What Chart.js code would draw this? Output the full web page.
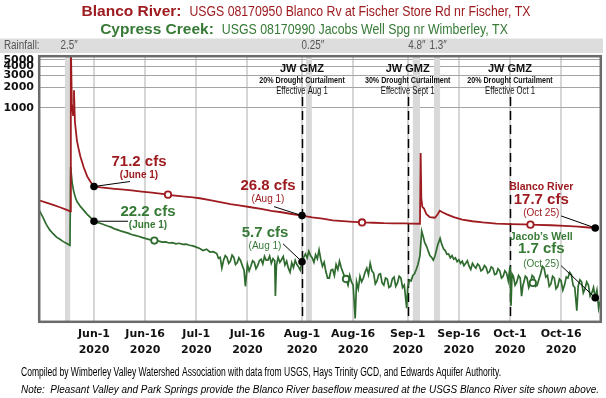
<!DOCTYPE html>
<html>
<head>
<meta charset="utf-8">
<script src="https://cdn.jsdelivr.net/npm/chart.js@4.4.1/dist/chart.umd.min.js"></script>
<style>
  html, body { margin: 0; padding: 0; background: #fff; }
  #wrap { width: 606px; height: 398px; }
</style>
</head>
<body>
<div id="wrap"><canvas id="flowChart" width="606" height="398"></canvas></div>
<script>
// x values are days counted from June 1, 2020 (Jun-1 = 0)
var tickDays = [0, 15, 30, 45, 61, 76, 92, 107, 122, 137]
var tickLabels = [["Jun-1", "2020"], ["Jun-16", "2020"], ["Jul-1", "2020"], ["Jul-16", "2020"], ["Aug-1", "2020"],
    ["Aug-16", "2020"], ["Sep-1", "2020"], ["Sep-16", "2020"], ["Oct-1", "2020"], ["Oct-16", "2020"]]
var yTicks = [1000, 2000, 3000, 4000, 5000]

// Blanco River at Fischer (cfs)
var blancoDays = [-16, -14, -12, -10, -8, -7, -6.8, -6.5, -6.15, -5.87, -5.6, -5, -4.5, -4, -3, -2, -1,
    0, 2, 4, 6, 8, 11, 14, 17, 20, 23, 26, 29, 31, 34, 37, 40, 43, 46, 49, 52, 55, 58,
    61, 64, 67, 70, 73, 76, 79, 82, 85, 88, 91, 93, 95.6, 95.8, 96, 96.3, 96.8, 97.5, 98.5,
    100, 100.8, 101.4, 102.2, 103.5, 105.5, 108, 111, 114, 118, 122, 126, 130, 134, 138, 142, 145, 147, 148]
var blancoCfs = [44.5, 41.5, 38.5, 35.5, 32.5, 31, 9000, 1150, 780, 1800, 620, 330, 250, 195, 135, 100, 83,
    71.2, 69, 67.5, 66, 64.5, 62.5, 60, 58, 55.5, 53, 51, 49.5, 48, 45, 42, 39.5, 37.5, 35.5, 33.5, 31.5, 30, 28.3,
    26.8, 25.3, 24.2, 22.9, 22.3, 21.8, 21.3, 21.1, 20.8, 20.7, 20.6, 20.5, 20.4, 219, 48, 36, 34, 28, 25.5,
    25, 28, 31.5, 30, 28, 25.5, 23.5, 22.2, 21.3, 20.5, 20.2, 20, 19.7, 19.4, 19, 18.5, 18, 17.7, 17.9]

// Cypress Creek at Jacob's Well (cfs)
var jwDays = [-16, -15, -14, -13, -12, -11, -10, -9, -8, -7.05, -6.85, -6.4, -6, -5.5, -5, -4, -3, -2, -1,
    0, 1, 2, 3, 4, 5, 6, 7, 8, 9, 10, 11, 12, 13, 14, 15, 16, 17, 18, 19, 20, 21, 22, 23, 24, 25, 26, 27, 28, 29, 30, 31, 32, 33, 34, 35,
    36, 36.5, 37, 37.5, 38, 38.5, 39, 39.5, 40, 40.5,
    41, 41.5, 42, 42.5, 43, 43.5, 44, 44.4, 45, 45.5,
    46, 46.5, 47, 47.5, 48, 48.5, 49, 49.5, 50, 50.5,
    51, 51.5, 52, 52.5, 53, 53.2, 53.5, 54, 54.5, 55,
    55.5, 56, 56.5, 57, 57.5, 58, 58.5, 59, 59.5, 60,
    60.5, 61, 61.5, 62, 62.5, 63, 63.5, 64, 64.5, 65,
    65.5, 66, 66.5, 67, 67.5, 68, 68.5, 69, 69.5, 70,
    70.5, 71, 71.5, 72, 72.5, 73, 73.5, 74, 74.5, 75,
    75.5, 76, 76.6, 77, 77.5, 78, 78.5, 79, 79.5, 80,
    80.5, 81, 81.5, 82, 82.5, 83, 83.5, 84, 84.5, 85,
    85.5, 86, 86.5, 87, 87.5, 88, 88.5, 89, 89.5, 90,
    90.5, 91, 91.7, 92, 92.5, 93, 93.5, 94, 94.5, 95,
    95.6, 96.1, 96.6, 97, 97.6, 98, 98.5, 99, 99.5, 100,
    100.8, 101.5, 102, 102.5, 103, 103.5, 104, 104.5, 105, 105.5,
    106, 106.5, 107, 107.5, 108, 108.5, 109, 109.5, 110, 110.5,
    111, 111.5, 112, 112.5, 113, 113.5, 114, 114.5, 115, 115.5,
    116, 116.5, 117, 117.5, 118, 118.5, 119, 119.5, 120, 120.5,
    121, 121.5, 122, 122.3, 122.6, 123, 123.5, 124, 124.5, 125,
    125.4, 125.8, 126, 126.5, 127, 127.5, 128, 128.5, 129, 129.5,
    130, 130.5, 131, 131.5, 132, 132.5, 133, 133.5, 134, 134.5,
    135, 135.5, 136, 136.5, 137, 137.5, 138, 138.5, 139, 139.5,
    140, 140.5, 141, 141.6, 142, 142.5, 143, 143.5, 144, 144.5,
    145, 145.5, 146, 146.5, 147, 147.5, 148, 148.4]
var jwCfs = [31.8, 25.5, 20.0, 16.6, 14.6, 13.0, 12.1, 11.2, 10.5, 9.9, 138, 80, 62, 50, 43, 36.5, 32, 28, 25,
    22.2, 21.3, 20.6, 19.7, 18.9, 18.2, 17.2, 16.6, 15.9, 15.4, 14.9, 14.2, 13.8, 13.4, 12.9, 12.5, 12.1, 11.8, 11.5, 11.4, 11.0, 11.1, 10.7, 10.8, 10.4, 10.6, 10.2, 10.3, 9.9, 9.7, 9.3, 8.9, 8.3, 8.7, 7.9, 8.0,
    7.5, 6.4, 6.6, 4.6, 6.0, 7.0, 6.6, 5.4, 5.8, 7.1,
    6.6, 5.2, 5.5, 6.5, 5.9, 5.0, 4.3, 2.5, 5.2, 4.2,
    4.9, 5.9, 5.6, 4.5, 5.0, 5.9, 6.2, 5.3, 6.8, 6.0,
    6.0, 6.9, 5.4, 6.3, 5.9, 1.8, 5.0, 6.6, 5.6, 6.1,
    6.8, 5.1, 5.8, 4.6, 4.0, 5.5, 4.7, 6.0, 5.2, 4.8,
    4.3, 5.7, 6.6, 7.4, 6.5, 8.1, 7.0, 6.5, 5.6, 7.2,
    6.3, 8.5, 6.2, 4.9, 5.6, 4.1, 3.3, 3.3, 4.3, 4.4,
    3.6, 5.2, 4.4, 5.8, 4.7, 4.0, 3.4, 3.1, 2.6, 3.6,
    2.9, 2.6, 0.85, 2.9, 2.3, 3.5, 2.9, 3.3, 4.0, 4.6,
    3.7, 5.4, 4.2, 3.9, 2.7, 3.0, 3.7, 3.8, 2.8, 2.6,
    3.3, 3.2, 2.4, 2.5, 3.2, 3.4, 2.5, 2.8, 3.5, 3.3,
    2.4, 2.6, 1.2, 2.4, 3.1, 3.0, 3.6, 3.8, 4.4, 5.2,
    7.0, 16.0, 13.0, 10.8, 9.4, 8.2, 7.0, 6.6, 6.0, 6.9,
    10.0, 12.5, 10.2, 8.8, 8.3, 7.3, 7.4, 6.5, 7.0, 6.2,
    6.5, 5.7, 6.1, 5.4, 5.8, 5.0, 5.4, 5.9, 4.9, 4.4,
    5.4, 4.9, 4.6, 5.3, 5.0, 4.2, 4.4, 5.0, 4.7, 3.9,
    4.1, 4.8, 4.6, 3.7, 3.8, 4.5, 4.2, 3.3, 3.5, 4.2,
    3.9, 3.0, 4.9, 1.3, 3.8, 3.5, 2.6, 2.9, 3.6, 3.3,
    1.8, 2.6, 2.8, 3.5, 3.3, 2.4, 2.8, 3.6, 3.4, 2.5,
    2.6, 3.2, 3.8, 4.9, 4.6, 3.4, 3.6, 2.5, 2.7, 3.5,
    3.3, 2.3, 2.5, 3.2, 3.0, 2.2, 2.6, 3.4, 3.3, 4.0,
    3.7, 2.6, 2.4, 1.1, 2.5, 3.1, 2.9, 2.0, 2.3, 2.9,
    2.6, 1.8, 2.0, 2.4, 1.7, 2.2, 1.2, 1.5]

// open circle markers on each line
var blancoOpenDays = [21.7, 78.6, 128]
var blancoOpenCfs = [54.2, 21.3, 19.8]
var jwOpenDays = [17.7, 73.9, 128.7]
var jwOpenCfs = [11.6, 3.2, 2.8]

// labelled readings
var markDays = [0, 61, 147]
var markDates = ["(June 1)", "(Aug 1)", "(Oct 25)"]
var blancoMarks = [71.2, 26.8, 17.7]
var jwMarks = [22.2, 5.7, 1.7]

// rainfall events
var rainStart = [-8.5, 62.2, 93.5, 99.7]
var rainEnd = [-7.0, 63.9, 95.6, 101.5]
var rainLabels = ["2.5\u2033", "0.25\u2033", "4.8\u2033", "1.3\u2033"]

// Jacob's Well GMZ curtailments
var curtailDays = [61, 92, 122]
var curtailPct = ["20% Drought Curtailment", "30% Drought Curtailment", "20% Drought Curtailment"]
var curtailDates = ["Effective Aug 1", "Effective Sept 1", "Effective Oct 1"]

var RED = "#9e1b20"
var GREEN = "#2f6b2e"
var GREEN_TXT = "#367a36"
var SANS = '"Liberation Sans", Arial, sans-serif'
var VERD = '"DejaVu Sans", Verdana, sans-serif'

function pts(xs, ys) {
    return xs.map(function (x, i) { return { x: x, y: ys[i] } })
}

function text(ctx, str, x, y, font, color, align) {
    ctx.font = font
    ctx.fillStyle = color
    ctx.textAlign = align || "center"
    ctx.textBaseline = "middle"
    ctx.fillText(str, x, y)
}

// no narrow face installed, so squeeze the normal one
function narrow(ctx, str, x, y, font, color, align, sx, baseline) {
    ctx.save()
    ctx.font = font
    ctx.fillStyle = color
    ctx.textAlign = align || "center"
    ctx.textBaseline = baseline || "middle"
    ctx.translate(x, y)
    ctx.scale(sx, 1)
    ctx.fillText(str, 0, 0)
    ctx.restore()
}

function squeezeFor(ctx, str, font, width) {
    ctx.font = font
    return width / ctx.measureText(str).width
}

function titleLine(ctx, cx, y, boldText, restText, restWidth, color) {
    ctx.font = "bold 15.5px " + SANS
    var bw = ctx.measureText(boldText).width
    var x0 = cx - (bw + 8 + restWidth) / 2
    ctx.fillStyle = color
    ctx.textAlign = "left"
    ctx.textBaseline = "alphabetic"
    ctx.fillText(boldText, x0, y)
    var f = "15px " + SANS
    narrow(ctx, restText, x0 + bw + 8, y, f, color, "left", squeezeFor(ctx, restText, f, restWidth), "alphabetic")
}

// label offsets from each dot
var blancoLabelPos = [
    { dx: 45, value: -25, date: -11, lx: 36, ly: -5, bold: true },
    { dx: -34, value: -30, date: -16.5, lx: -28, ly: -9 },
    { dx: -54, name: -41, value: -28.5, date: -15, lx: -34, ly: -12 }
]
var jwLabelPos = [
    { dx: 54, value: -9, date: 4.5, lx: 34, ly: 0, bold: true },
    { dx: -37, value: -28.5, date: -15, lx: -19, ly: -18 },
    { dx: -54, name: -61, value: -48.5, date: -34, lx: -34, ly: -32 }
]

function drawCallouts(ctx, xs, ys, values, layout, color, name) {
    for (var i = 0; i < markDays.length; i++) {
        var px = xs.getPixelForValue(markDays[i])
        var py = ys.getPixelForValue(values[i])
        var p = layout[i]
        ctx.strokeStyle = "#000"
        ctx.lineWidth = 1
        ctx.setLineDash([])
        ctx.beginPath()
        ctx.moveTo(px, py)
        ctx.lineTo(px + p.lx, py + p.ly)
        ctx.stroke()
        if (p.name !== undefined) text(ctx, name, px + p.dx, py + p.name, "bold 10.5px " + SANS, color)
        text(ctx, values[i] + " cfs", px + p.dx, py + p.value, "bold 15px " + SANS, color)
        text(ctx, markDates[i], px + p.dx, py + p.date, (p.bold ? "bold " : "") + "10px " + SANS, color)
    }
}

var decorations = {
    id: "decorations",
    beforeDatasetsDraw: function (chart) {
        var ctx = chart.ctx, a = chart.chartArea, xs = chart.scales.x
        ctx.save()
        ctx.fillStyle = "#d9d9d9"
        for (var i = 0; i < rainStart.length; i++) {
            var x0 = xs.getPixelForValue(rainStart[i])
            var x1 = xs.getPixelForValue(rainEnd[i])
            ctx.fillRect(x0, a.top, x1 - x0, a.bottom - a.top)
        }
        ctx.strokeStyle = "#000"
        ctx.lineWidth = 1.5
        ctx.setLineDash([9, 5])
        curtailDays.forEach(function (d) {
            var x = Math.round(xs.getPixelForValue(d)) + 0.5
            ctx.beginPath()
            ctx.moveTo(x, 97)
            ctx.lineTo(x, a.bottom)
            ctx.stroke()
        })
        ctx.restore()
    },
    afterDatasetsDraw: function (chart) {
        var ctx = chart.ctx, xs = chart.scales.x, ys = chart.scales.y
        ctx.save()
        drawCallouts(ctx, xs, ys, blancoMarks, blancoLabelPos, RED, "Blanco River")
        drawCallouts(ctx, xs, ys, jwMarks, jwLabelPos, GREEN_TXT, "Jacob\u2019s Well")
        ctx.restore()
    },
    afterDraw: function (chart) {
        var ctx = chart.ctx, a = chart.chartArea, xs = chart.scales.x
        ctx.save()
        // titles
        titleLine(ctx, 306, 15.5, "Blanco River:", "USGS 08170950 Blanco Rv at Fischer Store Rd nr Fischer, TX", 341, RED)
        titleLine(ctx, 304, 34, "Cypress Creek:", "USGS 08170990 Jacobs Well Spg nr Wimberley, TX", 286, GREEN_TXT)

        // rainfall strip
        ctx.fillStyle = "#dddddd"
        ctx.fillRect(0, 38.5, 603, 14.5)
        narrow(ctx, "Rainfall:", 4, 46, "12px " + SANS, "#555", "left", 0.82)
        for (var i = 0; i < rainLabels.length; i++) {
            narrow(ctx, rainLabels[i], xs.getPixelForValue(rainStart[i]) - 4.5, 46, "12px " + SANS, "#555", "left", 0.82)
        }

        // curtailment notes
        for (var j = 0; j < curtailDays.length; j++) {
            var cx = xs.getPixelForValue(curtailDays[j])
            text(ctx, "JW GMZ", cx, 68.5, "bold 11px " + SANS, "#111")
            narrow(ctx, curtailPct[j], cx, 80.5, "bold 9.5px " + SANS, "#111", "center", 0.75)
            narrow(ctx, curtailDates[j], cx, 91, "10px " + SANS, "#111", "center", 0.77)
        }

        // frame
        ctx.strokeStyle = "#6b6b6b"
        ctx.lineWidth = 2.5
        ctx.setLineDash([])
        ctx.strokeRect(a.left - 0.8, a.top - 0.8, a.right - a.left + 1.6, a.bottom - a.top + 1.6)

        // footer
        var f1 = "Compiled by Wimberley Valley Watershed Association with data from USGS, Hays Trinity GCD, and Edwards Aquifer Authority."
        var f2 = "Note:  Pleasant Valley and Park Springs provide the Blanco River baseflow measured at the USGS Blanco River site shown above."
        var ff1 = "12px " + SANS, ff2 = "italic 11.5px " + SANS
        narrow(ctx, f1, 21, 373, ff1, "#000", "left", squeezeFor(ctx, f1, ff1, 480))
        narrow(ctx, f2, 21, 390, ff2, "#000", "left", squeezeFor(ctx, f2, ff2, 578))
        ctx.restore()
    }
}

var markPoints = pts(markDays, blancoMarks).concat(pts(markDays, jwMarks))

var flowChart = new Chart(document.getElementById("flowChart"), {
    type: "scatter",
    data: {
        datasets: [{
            label: "Readings",
            data: markPoints,
            pointRadius: 3.8,
            pointBackgroundColor: "#000",
            pointBorderWidth: 0,
            order: 0
        }, {
            label: "Blanco markers",
            data: pts(blancoOpenDays, blancoOpenCfs),
            pointRadius: 3.2,
            pointBackgroundColor: "#fff",
            pointBorderColor: RED,
            pointBorderWidth: 1.8,
            order: 1
        }, {
            label: "Jacob's Well markers",
            data: pts(jwOpenDays, jwOpenCfs),
            pointRadius: 3.2,
            pointBackgroundColor: "#fff",
            pointBorderColor: GREEN,
            pointBorderWidth: 1.8,
            order: 1
        }, {
            label: "Blanco River",
            data: pts(blancoDays, blancoCfs),
            showLine: true,
            borderColor: RED,
            borderWidth: 1.8,
            pointRadius: 0,
            order: 2
        }, {
            label: "Cypress Creek",
            data: pts(jwDays, jwCfs),
            showLine: true,
            borderColor: GREEN,
            borderWidth: 1.7,
            pointRadius: 0,
            order: 3
        }]
    },
    options: {
        responsive: false,
        devicePixelRatio: 1,
        animation: false,
        layout: { padding: { top: 57, right: 6, left: 0, bottom: 0 } },
        plugins: { legend: { display: false }, tooltip: { enabled: false } },
        scales: {
            x: {
                type: "linear",
                bounds: "data",
                min: -15.84,
                max: 148.4,
                afterBuildTicks: function (scale) {
                    scale.ticks = tickDays.map(function (d) { return { value: d } })
                },
                afterFit: function (scale) { scale.height = 77 },
                grid: { color: "#d6d6d6", lineWidth: 2, drawTicks: false },
                border: { display: false },
                ticks: {
                    autoSkip: false,
                    maxRotation: 0,
                    padding: 5,
                    color: "#111",
                    font: { family: VERD, size: 11, weight: "bold", lineHeight: "16px" },
                    callback: function (value, index) { return tickLabels[index] }
                }
            },
            y: {
                type: "logarithmic",
                bounds: "data",
                min: 0.78,
                max: 5500,
                afterBuildTicks: function (scale) {
                    scale.ticks = yTicks.map(function (v) { return { value: v } })
                },
                afterFit: function (scale) { scale.width = 40 },
                grid: { color: "#a3a3a3", lineWidth: 1, drawTicks: false },
                border: { display: false },
                ticks: {
                    autoSkip: false,
                    padding: 6,
                    color: "#111",
                    font: { family: VERD, size: 11, weight: "bold" },
                    callback: function (value) { return String(value) }
                }
            }
        }
    },
    plugins: [decorations]
})
</script>
</body>
</html>
